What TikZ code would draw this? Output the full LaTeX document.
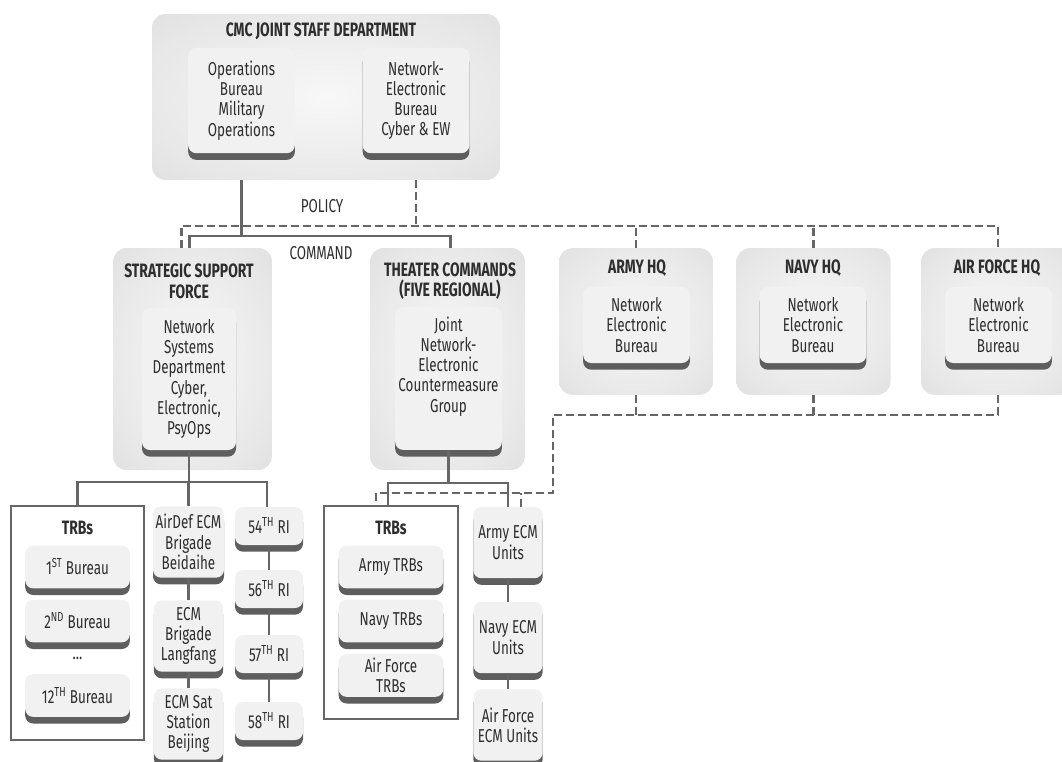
\documentclass[tikz,border=0pt]{standalone}
\usepackage{fontspec}
\setmainfont{Fira Sans}[FakeStretch=0.72]
\usetikzlibrary{positioning,shadows,calc}
\definecolor{linegray}{HTML}{666666}
\definecolor{textgray}{HTML}{2E2E2E}
\definecolor{unitfill}{HTML}{F1F1F2}
\definecolor{shadowgray}{HTML}{5E5E5E}
\colorlet{glowin}{black!3}
\colorlet{glowmid}{black!9}
\colorlet{glowout}{black!16}
\pgfdeclareradialshading{panelglow}{\pgfpoint{0bp}{0bp}}{color(0bp)=(glowin); color(26bp)=(glowmid); color(50bp)=(glowout); color(100bp)=(glowout)}

\begin{document}
\begin{tikzpicture}[x=0.75pt, y=-0.75pt,
    panel/.style={rectangle, rounded corners=10pt, shading=panelglow},
    unit/.style={rectangle, rounded corners=6pt, fill=unitfill, align=center, inner sep=2pt, text=textgray,
        font=\fontsize{14}{15.2}\selectfont,
        drop shadow={shadow xshift=0pt, shadow yshift=-5pt, fill=shadowgray, opacity=1}},
    paneltitle/.style={align=center, inner sep=0pt, text=textgray, font=\bfseries\fontsize{14.5}{15.5}\selectfont},
    flowtag/.style={inner sep=0pt, text=textgray, font=\fontsize{14}{15.2}\selectfont},
    trbframe/.style={rectangle, draw=linegray, line width=1.5pt, fill=white},
    hqbox/.style={panel, minimum width=115.5pt, minimum height=110pt},
    hqunit/.style={unit, minimum width=80pt, minimum height=57pt},
    trbunit/.style={unit, minimum width=78.5pt, minimum height=32pt},
    stackunit/.style={unit, minimum width=52pt, minimum height=53.5pt},
    riunit/.style={unit, minimum width=51pt, minimum height=28.5pt},
    cmdline/.style={draw=linegray, line width=2.2pt},
    polline/.style={draw=linegray, line width=2.2pt, dash pattern=on 6pt off 3pt}
]
\useasboundingbox (0,0) rectangle (1062,761);

% joint staff
\node[panel, minimum width=261pt, minimum height=124.5pt] (cmc) at (326,97) {};
\node[paneltitle] (cmctitle) at (321,31) {CMC JOINT STAFF DEPARTMENT};
\node[unit, minimum width=80pt, minimum height=79pt] (ops) at (241.5,100.5) {Operations\\Bureau\\Military\\Operations};
\node[unit, minimum width=80pt, minimum height=79pt] (netel) at (416,100.5) {Network-\\Electronic\\Bureau\\Cyber \& EW};

% second row
\node[panel, minimum width=119pt, minimum height=166.5pt] (ssf) at (192.5,359) {};
\node[paneltitle] (ssftitle) at (189,281) {STRATEGIC SUPPORT\\FORCE};
\node[unit, minimum width=70.5pt, minimum height=106.5pt] (ssfnet) at (189,379) {Network\\Systems\\Department\\Cyber,\\Electronic,\\PsyOps};
\node[panel, minimum width=116pt, minimum height=166.5pt] (tc) at (447.5,359) {};
\node[paneltitle] (tctitle) at (450,281) {THEATER COMMANDS\\(FIVE REGIONAL)};
\node[unit, minimum width=80pt, minimum height=107pt] (tcnet) at (448.5,378.5) {Joint\\Network-\\Electronic\\Countermeasure\\Group\\[6pt]};

\node[hqbox] (army) at (636,321.5) {};
\node[paneltitle] (armytitle) at (637,268) {ARMY HQ};
\node[hqunit] (armynet) at (636.5,325) {Network\\Electronic\\Bureau};
\node[hqbox] (navy) at (813.5,321.5) {};
\node[paneltitle] (navytitle) at (813,268) {NAVY HQ};
\node[hqunit] (navynet) at (813,325) {Network\\Electronic\\Bureau};
\node[hqbox] (af) at (998,321.5) {};
\node[paneltitle] (aftitle) at (997,268) {AIR FORCE HQ};
\node[hqunit] (afnet) at (998.5,325) {Network\\Electronic\\Bureau};

% strategic support force units
\node[trbframe, minimum width=100pt, minimum height=175.5pt] (ssftrb) at (77.5,623) {};
\node[paneltitle] (ssftrbtitle) at (77.5,528) {TRBs};
\node[trbunit] (b1) at (77.5,567) {1\textsuperscript{ST} Bureau};
\node[trbunit] (b2) at (77.5,621) {2\textsuperscript{ND} Bureau};
\node[flowtag] (bdots) at (77.5,658) {...};
\node[trbunit] (b12) at (77.5,695.5) {12\textsuperscript{TH} Bureau};

\node[stackunit] (airdef) at (188.5,542) {AirDef ECM\\Brigade\\Beidaihe};
\node[stackunit] (ecmlang) at (188.5,636) {ECM\\Brigade\\Langfang};
\node[stackunit] (ecmsat) at (188.5,724) {ECM Sat\\Station\\Beijing};

\node[riunit] (ri54) at (269,526) {54\textsuperscript{TH} RI};
\node[riunit] (ri56) at (269,589) {56\textsuperscript{TH} RI};
\node[riunit] (ri57) at (269,654) {57\textsuperscript{TH} RI};
\node[riunit] (ri58) at (269,721) {58\textsuperscript{TH} RI};

% theater command units
\node[trbframe, minimum width=100.5pt, minimum height=160pt] (tctrb) at (391,612.5) {};
\node[paneltitle] (tctrbtitle) at (391,528) {TRBs};
\node[trbunit] (atrb) at (391,567) {Army TRBs};
\node[trbunit] (ntrb) at (391,621) {Navy TRBs};
\node[trbunit] (aftrb) at (391,675.5) {Air Force\\TRBs};

\node[stackunit] (aecm) at (508,542.5) {Army ECM\\Units};
\node[stackunit] (necm) at (508,637.5) {Navy ECM\\Units};
\node[stackunit] (afecm) at (508,725) {Air Force\\ECM Units};

% command (solid) and policy (dashed) lines
\coordinate (cmdbus) at (244,236);
\coordinate (polbus) at (418,226);
\draw[cmdline] (ops.south |- cmc.south) -- (ops.south |- cmdbus);
\draw[cmdline] ([xshift=-2.6pt]ssf.north) |- (cmdbus) -| ([xshift=1.9pt]tc.north);
\draw[polline] (netel.south |- cmc.south) -- (netel.south |- polbus);
\draw[polline] ([xshift=-8.6pt]ssf.north) |- (af.north |- polbus) -- (af.north);
\foreach \hq in {army,navy}
    \draw[polline] (\hq.north) -- (\hq.north |- polbus);
\node[flowtag] (policy) at (322,206) {POLICY};
\node[flowtag] (command) at (321,253) {COMMAND};

% service HQs down to theater units
\coordinate (hqbus) at (553,415);
\coordinate (tcbus) at (553,493);
\draw[polline] (af.south) -- (af.south |- hqbus) -- (hqbus) -- (tcbus) -| ([xshift=-11.25pt]tctrb.north);
\foreach \hq in {army,navy}
    \draw[polline] (\hq.south) -- (\hq.south |- hqbus);
\draw[polline] ([xshift=9.75pt]aecm.north) -- ([xshift=9.75pt]aecm.north |- tcbus);

% ssf split
\coordinate (ssfsplit) at (189,482);
\draw[cmdline] (ssfnet.south) -- (ssfnet.south |- ssfsplit);
\draw[cmdline] (ssftrb.north) |- (ssfsplit) -| ([xshift=-1.5pt]ri54.north);
\draw[cmdline] (airdef.north) -- (airdef.north |- ssfsplit);

% theater split
\coordinate (tcsplit) at (450,483);
\draw[cmdline] (tcnet.south) -- (tcnet.south |- tcsplit);
\draw[cmdline] ([xshift=-2.25pt]tctrb.north) |- (tcsplit) -| (aecm.north);

% stacks
\draw[cmdline] (airdef) -- (ecmlang) -- (ecmsat);
\draw[cmdline] (ri54) -- (ri56) -- (ri57) -- (ri58);
\draw[cmdline] (aecm) -- (necm) -- (afecm);
\end{tikzpicture}
\end{document}
